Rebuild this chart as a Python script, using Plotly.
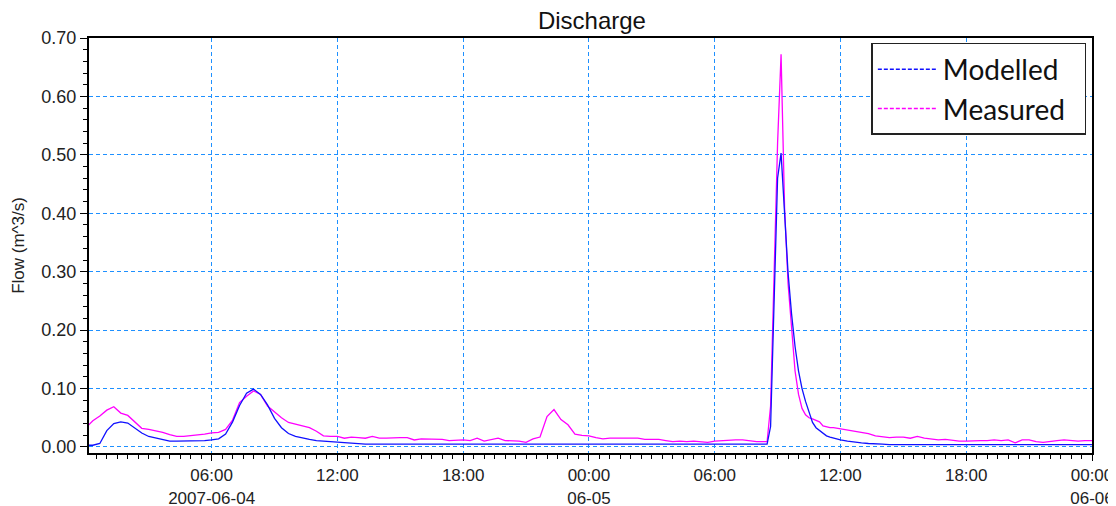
import pandas as pd
import plotly.graph_objects as go

# ---- data ----
# sampling times: 20-min before the storm peak, 10-min around it, 20-min after
t_a = pd.date_range("2007-06-04 00:00", "2007-06-05 08:20", freq="20min")
t_b = pd.date_range("2007-06-05 08:30", "2007-06-05 12:00", freq="10min")
t_c = pd.date_range("2007-06-05 12:20", "2007-06-06 00:00", freq="20min")

modelled_a = [0.003, 0.003, 0.006, 0.028, 0.040, 0.043, 0.041, 0.033, 0.024, 0.018,
              0.015, 0.012, 0.010, 0.010, 0.010, 0.010, 0.010, 0.011, 0.012, 0.014,
              0.022, 0.043, 0.071, 0.092, 0.099, 0.090, 0.072, 0.049, 0.033, 0.023,
              0.018, 0.015, 0.013, 0.011, 0.010, 0.009, 0.008, 0.007,
              0.006, 0.005, 0.005, 0.005, 0.005, 0.005, 0.005, 0.005, 0.005, 0.005,
              0.005, 0.005, 0.005, 0.004, 0.004, 0.004, 0.004, 0.004, 0.004, 0.004,
              0.004, 0.004, 0.004, 0.004, 0.004, 0.004, 0.004, 0.004, 0.004, 0.004,
              0.004, 0.004, 0.004, 0.005, 0.005, 0.005, 0.005, 0.005, 0.005, 0.005,
              0.005, 0.005, 0.005, 0.005, 0.005, 0.005, 0.004, 0.004, 0.004, 0.004,
              0.004, 0.004, 0.004, 0.004, 0.004, 0.004, 0.004, 0.004, 0.004, 0.004]
modelled_b = [0.005, 0.035, 0.260, 0.460, 0.503, 0.400, 0.298, 0.228, 0.172, 0.130,
              0.100, 0.078, 0.058, 0.042, 0.033, 0.028, 0.024, 0.019, 0.017, 0.015,
              0.013, 0.012]
modelled_c = [0.010, 0.008, 0.007, 0.006, 0.006, 0.005, 0.004, 0.004, 0.004, 0.004,
              0.004, 0.004, 0.004, 0.004, 0.004, 0.004, 0.004, 0.004, 0.004, 0.004,
              0.004, 0.004, 0.004, 0.004, 0.004, 0.004, 0.004, 0.004, 0.004, 0.004,
              0.004, 0.004, 0.004, 0.004, 0.004, 0.004]

measured_a = [0.033, 0.045, 0.053, 0.063, 0.069, 0.058, 0.054, 0.043, 0.032, 0.030,
              0.028, 0.025, 0.021, 0.018, 0.018, 0.019, 0.021, 0.022, 0.024, 0.025,
              0.030, 0.046, 0.076, 0.087, 0.096, 0.090, 0.070, 0.060, 0.050, 0.042,
              0.039, 0.036, 0.033, 0.027, 0.019, 0.018, 0.018, 0.015,
              0.017, 0.016, 0.015, 0.018, 0.015, 0.015, 0.016, 0.016, 0.016, 0.012,
              0.014, 0.014, 0.014, 0.013, 0.011, 0.012, 0.012, 0.011, 0.015, 0.010,
              0.012, 0.015, 0.011, 0.011, 0.010, 0.008, 0.014, 0.017, 0.052, 0.064,
              0.047, 0.038, 0.022, 0.020, 0.019, 0.016, 0.014, 0.015, 0.015, 0.016,
              0.016, 0.015, 0.013, 0.013, 0.013, 0.011, 0.009, 0.010, 0.009, 0.010,
              0.009, 0.008, 0.010, 0.011, 0.011, 0.012, 0.012, 0.010, 0.009, 0.009]
measured_b = [0.009, 0.070, 0.320, 0.520, 0.672, 0.410, 0.280, 0.200, 0.130, 0.090,
              0.066, 0.055, 0.050, 0.048, 0.045, 0.043, 0.036, 0.034, 0.033, 0.033,
              0.032, 0.031]
measured_c = [0.028, 0.026, 0.024, 0.023, 0.019, 0.018, 0.016, 0.017, 0.017, 0.015,
              0.018, 0.015, 0.013, 0.012, 0.013, 0.011, 0.010, 0.010, 0.011, 0.011,
              0.011, 0.012, 0.011, 0.012, 0.007, 0.012, 0.012, 0.009, 0.008, 0.010,
              0.011, 0.012, 0.011, 0.010, 0.011, 0.011]

x_tickvals = ["2007-06-04 06:00", "2007-06-04 12:00", "2007-06-04 18:00", "2007-06-05 00:00",
              "2007-06-05 06:00", "2007-06-05 12:00", "2007-06-05 18:00", "2007-06-06 00:00"]
x_ticktext = ["06:00<br>2007-06-04", "12:00", "18:00", "00:00<br>06-05",
              "06:00", "12:00", "18:00", "00:00<br>06-06"]

assert len(t_a) == len(modelled_a) == len(measured_a)
assert len(t_b) == len(modelled_b) == len(measured_b)
assert len(t_c) == len(modelled_c) == len(measured_c)

times = list(t_a) + list(t_b) + list(t_c)
modelled = modelled_a + modelled_b + modelled_c
measured = measured_a + measured_b + measured_c

BLUE = "#1010FF"
MAGENTA = "#FF00FF"
GRID = "#1E90FF"
FONT = "Liberation Sans, Arial, sans-serif"
NB = "\u00a0"

fig = go.Figure()
fig.add_trace(go.Scatter(x=times, y=measured, mode="lines", showlegend=False,
                         line=dict(color=MAGENTA, width=1.3)))
fig.add_trace(go.Scatter(x=times, y=modelled, mode="lines", showlegend=False,
                         line=dict(color=BLUE, width=1.3)))
# legend entries (dashed samples as in the reference)
fig.add_trace(go.Scatter(x=[None], y=[None], mode="lines", name="Modelled",
                         line=dict(color=BLUE, width=1.5, dash="4px,2px")))
fig.add_trace(go.Scatter(x=[None], y=[None], mode="lines", name="Measured" + NB * 2,
                         line=dict(color=MAGENTA, width=1.5, dash="4px,2px")))

# the page body adds an 8px offset, so the figure is 8px smaller and margins shifted
fig.update_layout(
    width=1108, height=498,
    margin=dict(l=81, r=24, t=30, b=53, autoexpand=False),
    paper_bgcolor="white", plot_bgcolor="white",
    font=dict(family=FONT, color="#222222", size=18),
    title=dict(text="Discharge", x=0.527, xanchor="center", y=0.974, yanchor="middle",
               font=dict(family=FONT, size=24, color="#111111")),
    legend=dict(x=0.78, y=0.988, xanchor="left", yanchor="top",
                bgcolor="white", bordercolor="#222222", borderwidth=1.5,
                font=dict(family="Lato, Liberation Sans, sans-serif", size=28, color="#111111"),
                itemwidth=60, tracegroupgap=0),
)
fig.update_xaxes(
    range=["2007-06-04 00:09", "2007-06-06 00:00"],
    tickmode="array", tickvals=x_tickvals, ticktext=x_ticktext,
    showline=True, linecolor="black", linewidth=2, mirror=True,
    ticks="outside", ticklen=6, tickwidth=1, tickcolor="black",
    showgrid=True, gridcolor=GRID, gridwidth=1, griddash="4px,3px",
    minor=dict(tick0="2007-06-04 00:00", dtick=1800000, ticks="outside", ticklen=4,
               tickcolor="black", showgrid=False),
    tickfont=dict(size=17), zeroline=False, automargin=False,
)
fig.update_yaxes(
    range=[-0.0103, 0.70],
    tickmode="linear", tick0=0, dtick=0.1, tickformat=".2f",
    showline=True, linecolor="black", linewidth=2, mirror=True,
    ticks="outside", ticklen=7, tickwidth=1, tickcolor="black",
    showgrid=True, gridcolor=GRID, gridwidth=1, griddash="4px,3px",
    minor=dict(tick0=0, dtick=0.02, ticks="outside", ticklen=4, tickcolor="black",
               showgrid=False),
    zeroline=False, tickfont=dict(size=18), automargin=False,
    title=dict(text="Flow (m^3/s)", standoff=12, font=dict(size=17)),
)

fig.write_html("out.html")
